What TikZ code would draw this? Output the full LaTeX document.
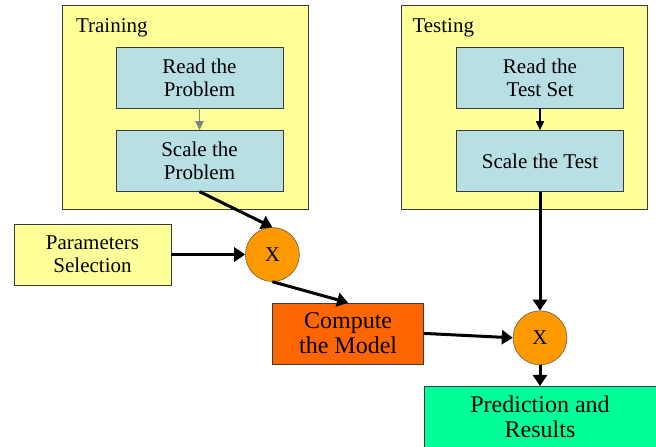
\documentclass[tikz,border=0pt]{standalone}
\usepackage{fontspec}
\newfontfamily\diagfont{Liberation Serif}
\usetikzlibrary{arrows.meta,positioning}
\definecolor{paleyellow}{HTML}{FFFF99}
\definecolor{paleblue}{HTML}{B8DFE3}
\definecolor{amber}{HTML}{FF9900}
\definecolor{rust}{HTML}{FF6600}
\definecolor{mint}{HTML}{00FF99}
\definecolor{rim}{HTML}{3A3A3A}

\begin{document}
\begin{tikzpicture}[
  x=1pt, y=1pt,
  frame/.style={draw=rim, fill=paleyellow, minimum width=246pt, minimum height=204pt, inner sep=0pt},
  title/.style={inner sep=0pt, font=\diagfont\fontsize{21}{23}\selectfont},
  box/.style={draw=rim, fill=paleblue, minimum width=167pt, minimum height=61pt,
    inner sep=0pt, align=center, font=\diagfont\fontsize{21}{23}\selectfont},
  bigbox/.style={draw=rim, minimum height=61pt, inner sep=0pt, align=center,
    font=\diagfont\fontsize{24}{25}\selectfont},
  mult/.style={circle, draw=rim, fill=amber, minimum size=54pt, inner sep=0pt,
    font=\diagfont\fontsize{21}{23}\selectfont},
  edge/.style={-{Triangle[length=11pt, width=14pt]}, line width=3pt},
  thin/.style={-{Triangle[length=9pt, width=8pt]}, line width=1.6pt}
]
\useasboundingbox (0,0) rectangle (656,447);

\node[frame] (train) at (185,340) {};
\node[frame] (test) at (524.5,340) {};
\node[title, below right=14pt and 14pt of train.north west, anchor=north west] (trainlbl) {Training};
\node[title, below right=14pt and 11pt of test.north west, anchor=north west] (testlbl) {Testing};

\node[box, below right=42pt and 54pt of train.north west] (readp) {Read the\\Problem};
\node[box, below=22pt of readp] (scalep) {Scale the\\Problem};
\node[box, below right=42pt and 55pt of test.north west] (readt) {Read the\\Test Set};
\node[box, below=22pt of readt] (scalet) {Scale the Test};

\node[box, fill=paleyellow, minimum width=157pt] (params) at (92.5,192.5) {Parameters\\Selection};
\node[mult, right=74pt of params] (mixa) {X};
\node[bigbox, fill=rust, minimum width=151pt, below right=21pt and 0pt of mixa.south] (model) {Compute\\the Model};
\node[mult, below=119pt of scalet] (mixb) {X};
\node[bigbox, fill=mint, minimum width=232pt, below=21pt of mixb] (result) {Prediction and\\Results};

\draw[thin, draw=gray, fill=gray] (readp) -- (scalep);
\draw[thin] (readt) -- (scalet);
\draw[edge] (scalep.south) -- (mixa.north);
\draw[edge] (params) -- (mixa);
\draw[edge] (mixa.south) -- (model.north);
\draw[edge] (model.east) -- (mixb.west);
\draw[edge] (scalet) -- (mixb);
\draw[edge] (mixb) -- (result);
\end{tikzpicture}
\end{document}
